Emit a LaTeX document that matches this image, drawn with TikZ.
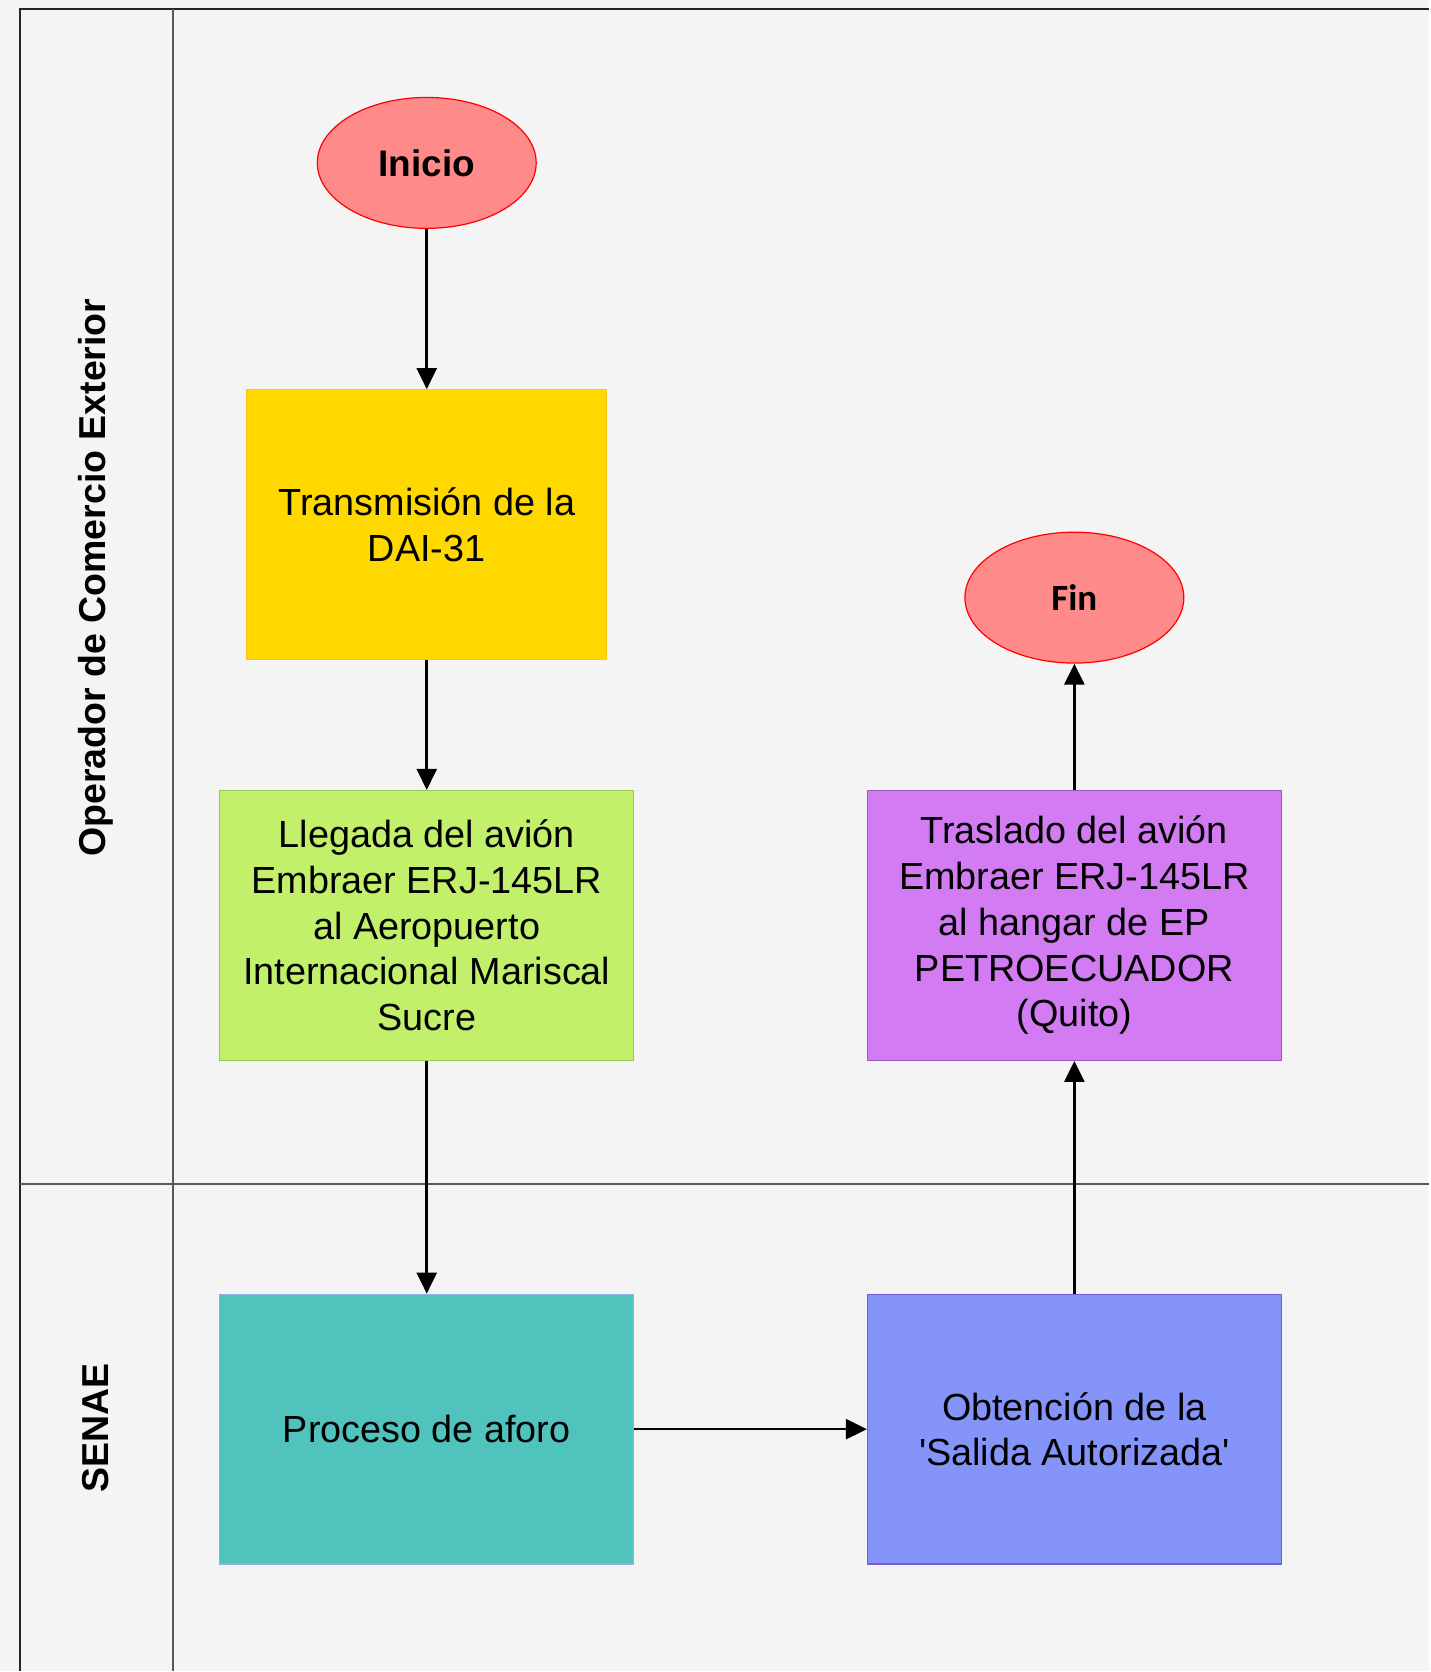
\documentclass[tikz,border=0pt]{standalone}
\usepackage{fontspec}
\setmainfont{Liberation Sans}
\newfontfamily\calibrifont{Carlito}
\usetikzlibrary{shapes.geometric,arrows.meta}
\definecolor{pagegray}{HTML}{F4F4F4}
\definecolor{termfill}{HTML}{FF8A8A}
\definecolor{goldfill}{HTML}{FFD800}
\definecolor{goldline}{HTML}{FFC21A}
\definecolor{limefill}{HTML}{C2F06A}
\definecolor{limeline}{HTML}{96CC50}
\definecolor{orchidfill}{HTML}{D27BF2}
\definecolor{orchidline}{HTML}{9A58C0}
\definecolor{tealfill}{HTML}{50C3BD}
\definecolor{tealline}{HTML}{8CB2E6}
\definecolor{bluefill}{HTML}{8494F8}
\definecolor{blueline}{HTML}{7A5AD0}
\begin{document}
\begin{tikzpicture}[x=0.5pt,y=-0.5pt,
    term/.style={ellipse,draw=red,fill=termfill,line width=0.6pt,
      minimum width=109.5pt,minimum height=65.5pt,inner sep=0pt},
    proc/.style={rectangle,line width=0.6pt,minimum height=135pt,inner sep=0pt,
      align=center,font=\fontsize{18.9}{22.9}\selectfont},
    lane/.style={rotate=90,font=\fontsize{18.75}{22}\selectfont\bfseries},
    flow/.style={line width=1.3pt,-{Triangle[length=10.5pt,width=10pt]}}]
  % background and lanes
  \fill[pagegray] (0,0) rectangle (1430,1672);
  \draw[line width=1pt,black!85] (1430,9) -- (20,9) -- (20,1672);
  \draw[line width=0.9pt,black!65] (173,9) -- (173,1672);
  \draw[line width=0.9pt,black!65] (20,1185) -- (1430,1185);
  \node[lane] at (96,578) (laneop) {Operador de Comercio Exterior};
  \node[lane] at (96,1429) (lanesenae) {SENAE};
  % nodes
  \node[term,font=\fontsize{18.5}{22}\selectfont\bfseries] at (427,163) (inicio) {Inicio};
  \node[proc,fill=goldfill,draw=goldline,minimum width=180pt] at (427,525) (trans) {Transmisión de la\\DAI-31};
  \node[proc,fill=limefill,draw=limeline,minimum width=207pt] at (427,926) (llegada) {Llegada del avión\\Embraer ERJ-145LR\\al Aeropuerto\\Internacional Mariscal\\Sucre};
  \node[proc,fill=tealfill,draw=tealline,minimum width=207pt] at (427,1430) (aforo) {Proceso de aforo};
  \node[proc,fill=bluefill,draw=blueline,minimum width=207pt] at (1075,1430) (salida) {Obtención de la\\\textquotesingle Salida Autorizada\textquotesingle};
  \node[proc,fill=orchidfill,draw=orchidline,minimum width=207pt] at (1075,926) (traslado) {Traslado del avión\\Embraer ERJ-145LR\\al hangar de EP\\PETROECUADOR\\(Quito)};
  \node[term,font=\fontsize{18.5}{22}\selectfont\calibrifont\bfseries] at (1075,598) (fin) {Fin};
  % connectors
  \draw[flow] (inicio) -- (trans);
  \draw[flow] (trans) -- (llegada);
  \draw[flow] (llegada) -- (aforo);
  \draw[flow] (aforo) -- (salida);
  \draw[flow] (salida) -- (traslado);
  \draw[flow] (traslado) -- (fin);
\end{tikzpicture}
\end{document}
